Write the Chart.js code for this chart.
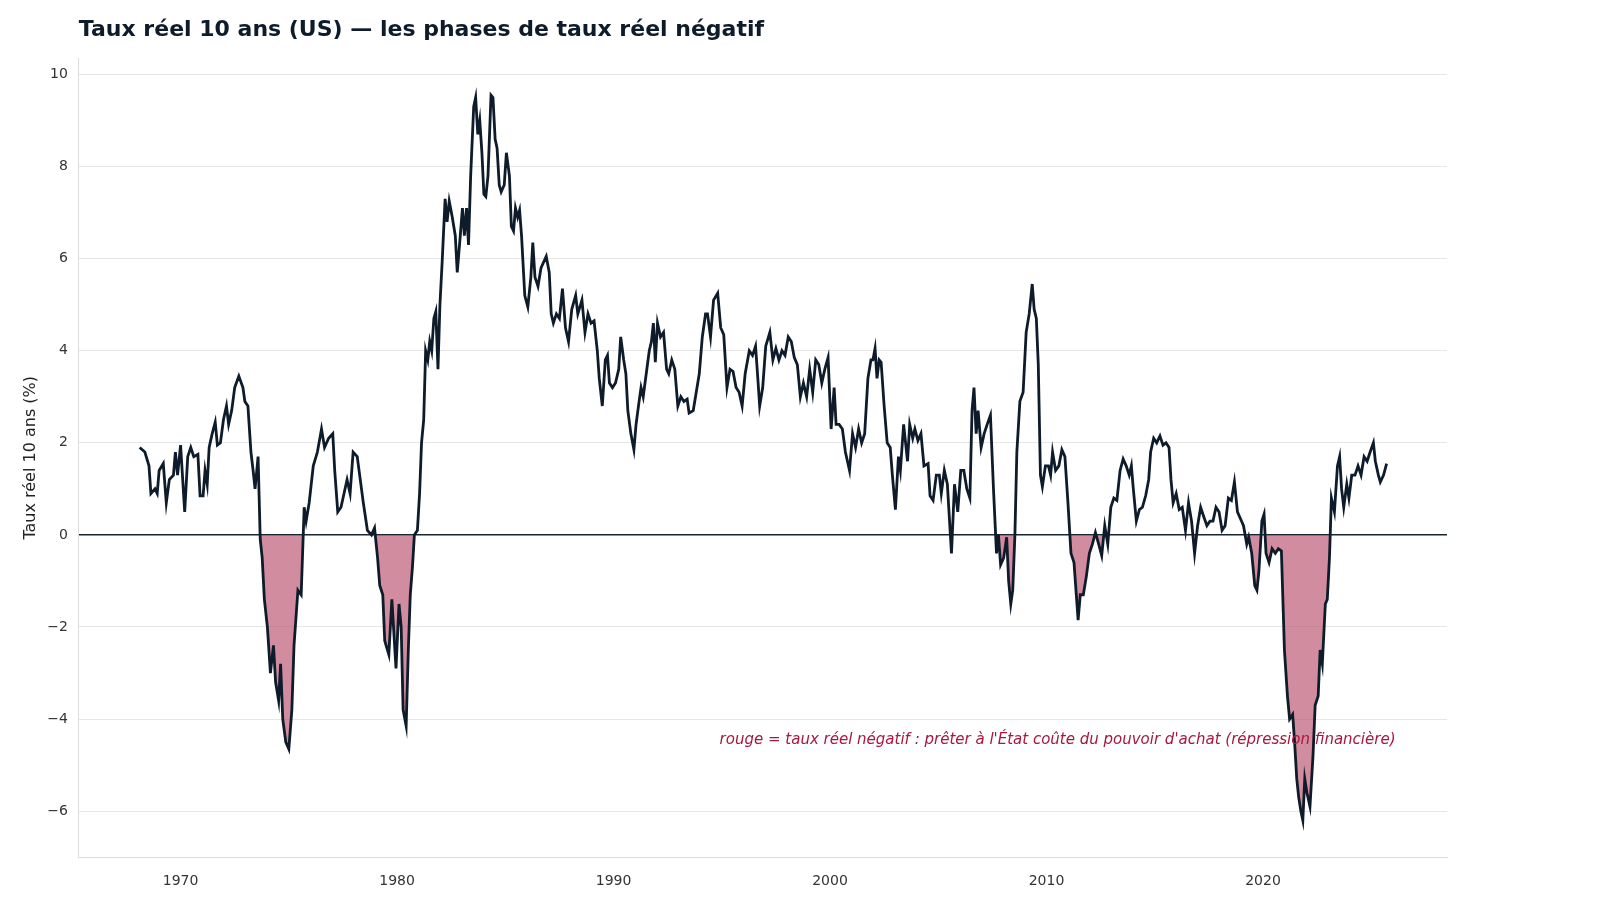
<!DOCTYPE html>
<html><head><meta charset="utf-8">
<script src="https://cdn.jsdelivr.net/npm/chart.js@4"></script>
<style>html,body{margin:0;background:#fff;}#w{width:1600px;height:900px;position:relative}</style>
</head><body><div id="w"><canvas id="c"></canvas></div>
<script>
const dates=[1968.11,1968.35,1968.54,1968.63,1968.82,1968.92,1969.01,1969.20,1969.34,1969.48,1969.67,1969.76,1969.86,1970.00,1970.19,1970.33,1970.47,1970.61,1970.80,1970.90,1971.04,1971.13,1971.23,1971.32,1971.46,1971.60,1971.70,1971.84,1971.98,1972.12,1972.22,1972.36,1972.50,1972.69,1972.88,1972.97,1973.11,1973.25,1973.35,1973.44,1973.58,1973.68,1973.77,1973.87,1974.01,1974.15,1974.29,1974.39,1974.53,1974.62,1974.72,1974.86,1975.00,1975.14,1975.24,1975.42,1975.57,1975.71,1975.80,1975.94,1976.13,1976.32,1976.51,1976.65,1976.84,1977.03,1977.12,1977.26,1977.41,1977.55,1977.69,1977.83,1977.97,1978.16,1978.30,1978.44,1978.63,1978.82,1978.96,1979.10,1979.20,1979.34,1979.43,1979.62,1979.76,1979.95,1980.09,1980.19,1980.28,1980.42,1980.52,1980.61,1980.71,1980.80,1980.94,1981.04,1981.13,1981.23,1981.32,1981.42,1981.51,1981.60,1981.70,1981.79,1981.89,1981.98,1982.08,1982.22,1982.31,1982.41,1982.55,1982.69,1982.78,1982.92,1983.02,1983.11,1983.21,1983.30,1983.40,1983.54,1983.63,1983.73,1983.82,1983.92,1984.01,1984.10,1984.20,1984.34,1984.43,1984.53,1984.62,1984.72,1984.81,1984.95,1985.05,1985.19,1985.28,1985.38,1985.47,1985.57,1985.66,1985.75,1985.90,1986.04,1986.18,1986.27,1986.37,1986.51,1986.65,1986.89,1987.03,1987.12,1987.22,1987.36,1987.50,1987.64,1987.78,1987.92,1988.07,1988.25,1988.35,1988.54,1988.68,1988.82,1988.96,1989.10,1989.25,1989.34,1989.48,1989.62,1989.72,1989.81,1989.95,1990.09,1990.24,1990.33,1990.47,1990.57,1990.66,1990.80,1990.94,1991.04,1991.18,1991.27,1991.37,1991.51,1991.65,1991.75,1991.84,1991.93,1992.03,1992.17,1992.31,1992.45,1992.55,1992.69,1992.83,1992.97,1993.11,1993.25,1993.40,1993.49,1993.68,1993.82,1993.96,1994.10,1994.25,1994.34,1994.48,1994.62,1994.81,1994.95,1995.09,1995.24,1995.38,1995.52,1995.66,1995.80,1995.94,1996.08,1996.27,1996.42,1996.56,1996.65,1996.75,1996.89,1997.03,1997.22,1997.36,1997.50,1997.64,1997.78,1997.92,1998.07,1998.21,1998.35,1998.49,1998.63,1998.77,1998.92,1999.06,1999.20,1999.34,1999.48,1999.62,1999.76,1999.91,2000.05,2000.19,2000.28,2000.42,2000.57,2000.71,2000.90,2001.04,2001.18,2001.32,2001.46,2001.60,2001.75,2001.89,2001.98,2002.08,2002.17,2002.27,2002.36,2002.50,2002.64,2002.78,2002.88,2003.02,2003.16,2003.25,2003.40,2003.49,2003.58,2003.68,2003.82,2003.92,2004.06,2004.20,2004.34,2004.53,2004.62,2004.76,2004.91,2005.05,2005.14,2005.28,2005.42,2005.61,2005.75,2005.90,2006.04,2006.18,2006.32,2006.46,2006.56,2006.65,2006.75,2006.84,2006.98,2007.12,2007.26,2007.41,2007.55,2007.69,2007.78,2007.88,2008.02,2008.16,2008.25,2008.35,2008.44,2008.54,2008.63,2008.77,2008.92,2009.06,2009.20,2009.34,2009.43,2009.53,2009.62,2009.72,2009.81,2009.95,2010.09,2010.19,2010.28,2010.42,2010.57,2010.71,2010.85,2010.99,2011.13,2011.27,2011.46,2011.56,2011.70,2011.84,2011.98,2012.12,2012.26,2012.41,2012.55,2012.69,2012.83,2012.97,2013.11,2013.25,2013.40,2013.54,2013.68,2013.82,2013.92,2014.01,2014.15,2014.29,2014.43,2014.58,2014.72,2014.81,2014.95,2015.09,2015.24,2015.38,2015.52,2015.66,2015.75,2015.85,2015.99,2016.13,2016.27,2016.42,2016.56,2016.70,2016.84,2016.98,2017.12,2017.26,2017.41,2017.55,2017.69,2017.83,2017.97,2018.11,2018.25,2018.40,2018.54,2018.68,2018.82,2018.96,2019.10,2019.25,2019.34,2019.48,2019.62,2019.72,2019.81,2019.95,2020.05,2020.14,2020.28,2020.42,2020.57,2020.71,2020.85,2020.99,2021.13,2021.23,2021.37,2021.46,2021.56,2021.65,2021.75,2021.84,2021.93,2022.03,2022.17,2022.31,2022.41,2022.55,2022.64,2022.74,2022.88,2022.97,2023.07,2023.16,2023.30,2023.44,2023.54,2023.63,2023.73,2023.87,2023.97,2024.10,2024.25,2024.39,2024.53,2024.67,2024.81,2024.95,2025.10,2025.19,2025.33,2025.42,2025.57,2025.71];
const realRate=[1.9,1.8,1.5,0.9,1.0,0.9,1.4,1.55,0.7,1.2,1.3,1.8,1.3,1.95,0.5,1.7,1.9,1.7,1.75,0.85,0.85,1.4,1.1,1.9,2.2,2.45,1.95,2.0,2.5,2.8,2.4,2.7,3.2,3.45,3.2,2.9,2.8,1.8,1.4,1.0,1.7,-0.1,-0.5,-1.4,-2.0,-3.0,-2.4,-3.2,-3.6,-2.8,-4.0,-4.5,-4.65,-3.8,-2.4,-1.2,-1.3,0.6,0.3,0.7,1.5,1.8,2.3,1.9,2.1,2.2,1.4,0.5,0.6,0.9,1.2,0.9,1.8,1.7,1.2,0.7,0.1,0.0,0.15,-0.5,-1.1,-1.3,-2.3,-2.6,-1.4,-2.9,-1.5,-2.0,-3.8,-4.15,-2.5,-1.3,-0.7,0.0,0.1,0.9,2.0,2.5,4.0,3.8,4.2,4.0,4.7,4.85,3.6,5.0,5.9,7.3,6.8,7.25,6.9,6.5,5.7,6.5,7.1,6.5,7.1,6.3,7.8,9.3,9.5,8.7,9.0,8.3,7.4,7.35,7.8,9.55,9.5,8.6,8.4,7.6,7.45,7.6,8.3,7.8,6.7,6.6,7.1,6.9,7.05,6.5,5.2,4.95,5.6,6.35,5.6,5.4,5.8,6.05,5.7,4.8,4.6,4.8,4.7,5.35,4.5,4.2,4.9,5.2,4.8,5.1,4.4,4.8,4.6,4.65,4.0,3.4,2.8,3.8,3.9,3.3,3.2,3.3,3.6,4.3,3.8,3.5,2.7,2.2,1.85,2.4,2.9,3.2,3.0,3.5,4.0,4.2,4.6,3.75,4.6,4.3,4.4,3.6,3.5,3.8,3.6,2.8,3.0,2.9,2.95,2.65,2.7,3.1,3.5,4.3,4.8,4.8,4.3,5.1,5.25,4.5,4.35,3.2,3.6,3.55,3.2,3.1,2.8,3.5,4.0,3.9,4.1,3.5,2.8,3.2,4.1,4.4,3.8,4.05,3.8,4.0,3.9,4.3,4.2,3.85,3.7,3.0,3.3,3.0,3.6,3.1,3.8,3.7,3.3,3.6,3.85,2.3,3.2,2.4,2.4,2.3,1.8,1.4,2.2,1.9,2.3,2.0,2.2,3.4,3.8,3.8,4.05,3.4,3.8,3.75,2.8,2.0,1.9,1.3,0.55,1.7,1.4,2.4,2.0,1.6,2.4,2.1,2.3,2.05,2.2,1.5,1.55,0.85,0.75,1.3,1.3,0.9,1.4,1.1,-0.4,1.1,0.5,1.4,1.4,1.0,0.8,2.7,3.2,2.2,2.7,1.9,2.2,2.4,2.6,1.0,-0.4,0.0,-0.65,-0.5,-0.05,-1.0,-1.5,-1.2,0.0,1.8,2.9,3.1,4.4,4.8,5.45,4.9,4.7,3.7,1.3,1.05,1.5,1.5,1.3,1.8,1.4,1.5,1.85,1.7,0.7,-0.4,-0.6,-1.85,-1.3,-1.3,-0.9,-0.4,-0.2,0.05,-0.2,-0.45,0.2,-0.2,0.6,0.8,0.75,1.4,1.65,1.5,1.3,1.5,1.0,0.3,0.55,0.6,0.85,1.2,1.8,2.1,2.0,2.15,1.95,2.0,1.9,1.2,0.7,0.9,0.55,0.6,0.1,0.7,0.3,-0.4,0.2,0.6,0.4,0.2,0.3,0.3,0.6,0.5,0.1,0.2,0.8,0.75,1.15,0.5,0.35,0.2,-0.2,-0.05,-0.4,-1.1,-1.2,-0.8,0.3,0.45,-0.4,-0.6,-0.3,-0.4,-0.3,-0.35,-2.5,-3.5,-4.0,-3.9,-4.5,-5.3,-5.7,-6.0,-6.2,-5.3,-5.6,-5.9,-4.8,-3.7,-3.5,-2.5,-2.8,-1.5,-1.4,-0.5,0.8,0.5,1.5,1.7,1.0,0.6,1.1,0.8,1.3,1.3,1.5,1.3,1.7,1.6,1.8,2.0,1.6,1.3,1.15,1.3,1.55];
const xTicks=[1970,1980,1990,2000,2010,2020];
const yTicks=[-6,-4,-2,0,2,4,6,8,10];
const titleText="Taux réel 10 ans (US) — les phases de taux réel négatif";
const yLabel="Taux réel 10 ans (%)";
const noteText="rouge = taux réel négatif : prêter à l'État coûte du pouvoir d'achat (répression financière)";
const noteAt={x:1994.9,y:-4.45};
const F="DejaVu Sans";
const pts=dates.map((d,i)=>({x:d,y:realRate[i]}));
const note={id:'note',afterDatasetsDraw(ch){const c=ch.ctx,xs=ch.scales.x,ys=ch.scales.y;c.save();c.font='italic 15px "'+F+'"';c.fillStyle='#a8173f';c.textBaseline='middle';c.fillText(noteText,xs.getPixelForValue(noteAt.x),ys.getPixelForValue(noteAt.y));
c.font='bold 22px "'+F+'"';c.fillStyle='#0d1b2a';c.textBaseline='alphabetic';c.fillText(titleText,ch.chartArea.left,36);c.restore();}};
const fmt=v=>String(v).replace('-','\u2212');
new Chart(document.getElementById('c'),{type:'line',data:{datasets:[{data:pts,borderColor:'#0d1b2a',borderWidth:2.8,pointRadius:0,tension:0,fill:{target:{value:0},above:'rgba(0,0,0,0)',below:'rgba(180,70,100,0.62)'}}]},
options:{responsive:true,maintainAspectRatio:false,animation:false,layout:{padding:{left:17,right:153,top:6,bottom:2}},
plugins:{legend:{display:false},tooltip:{enabled:false},title:{display:true,text:titleText,align:'start',color:'rgba(0,0,0,0)',font:{family:F,size:22,weight:'bold'},padding:{top:8,bottom:18}}},
scales:{x:{type:'linear',min:1965.3,max:2028.5,afterBuildTicks:a=>{a.ticks=xTicks.map(v=>({value:v}))},grid:{display:false},border:{color:'#dddddd'},ticks:{color:'#333',font:{family:F,size:14},padding:8,callback:v=>String(v)}},
y:{min:-7,max:10.35,afterBuildTicks:a=>{a.ticks=yTicks.map(v=>({value:v}))},grid:{color:c=>c.tick&&c.tick.value===0?'#1a2533':'#e6e6e6',lineWidth:c=>c.tick&&c.tick.value===0?1.5:1,drawTicks:true,tickColor:'rgba(0,0,0,0)'},border:{color:'#dddddd'},ticks:{color:'#333',font:{family:F,size:14},callback:v=>fmt(v)},title:{display:true,text:yLabel,color:'#222',font:{family:F,size:16}}}}},plugins:[note]});
</script></body></html>
